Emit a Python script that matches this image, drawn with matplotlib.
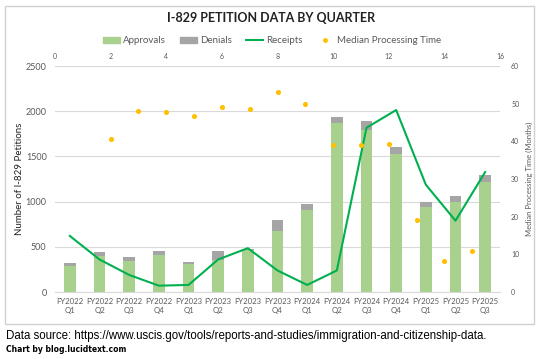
import matplotlib.pyplot as plt
import numpy as np
from matplotlib.patches import Rectangle, Patch
from matplotlib.lines import Line2D

plt.rcParams["font.family"] = ["Lato", "DejaVu Sans"]

quarters = ["FY2022\nQ1", "FY2022\nQ2", "FY2022\nQ3", "FY2022\nQ4",
            "FY2023\nQ1", "FY2023\nQ2", "FY2023\nQ3", "FY2023\nQ4",
            "FY2024\nQ1", "FY2024\nQ2", "FY2024\nQ3", "FY2024\nQ4",
            "FY2025\nQ1", "FY2025\nQ2", "FY2025\nQ3"]
approvals = [291, 395, 339, 414, 305, 357, 470, 675, 910, 1873, 1788, 1530, 944, 999, 1220]
denials = [33, 52, 52, 45, 31, 94, 11, 119, 67, 66, 107, 77, 55, 66, 78]
receipts = [620, 360, 189, 70, 78, 360, 485, 238, 78, 238, 1817, 2013, 1187, 789, 1327]
median_x = [2, 3, 4, 5, 6, 7, 8, 9, 10, 11, 12, 13, 14, 15]
median_months = [40.5, 48.1, 47.8, 46.6, 49.0, 48.6, 53.0, 49.8, 39.1, 39.1, 39.4, 19.2, 8.3, 11.0]

GREEN_BAR = "#A9D18E"
GRAY_BAR = "#A5A5A5"
LINE_GREEN = "#00B050"
ORANGE = "#FFC000"
GRID = "#D9D9D9"
TXT = "#595959"

fig = plt.figure(figsize=(5.38, 3.59), dpi=100)
fig.patches.append(Rectangle((5 / 538, 1 - 324 / 359), 529 / 538, 318 / 359,
                             transform=fig.transFigure, fill=False,
                             edgecolor="#D0D0D0", lw=1))

ax = fig.add_axes([55 / 538, 1 - 292 / 359, 445 / 538, 226 / 359])
x = np.arange(len(quarters))
ax.bar(x, approvals, width=0.4, color=GREEN_BAR, zorder=2)
ax.bar(x, denials, width=0.4, bottom=approvals, color=GRAY_BAR, zorder=2)
ax.plot(x, receipts, color=LINE_GREEN, lw=1.5, zorder=3)
ax.set_xlim(-0.5, len(quarters) - 0.5)
ax.set_ylim(0, 2500)
ax.set_yticks(range(0, 2501, 500))
ax.set_xticks(x)
ax.set_xticklabels(quarters, fontsize=5.6, color=TXT, linespacing=1.45)
ax.tick_params(axis="y", labelsize=6.5, labelcolor=TXT, length=0, pad=6)
ax.tick_params(axis="x", length=0, pad=4)
ax.grid(axis="y", color=GRID, lw=0.8, zorder=0)
for s in ["top", "right", "left"]:
    ax.spines[s].set_visible(False)
ax.spines["bottom"].set_color(GRID)
ax.set_ylabel("Number of I-829 Petitions", fontsize=7, color="#222222", labelpad=1)

ax2 = ax.twinx()
ax2.set_ylim(0, 60)
ax2.set_yticks(range(0, 61, 10))
ax2.tick_params(axis="y", labelsize=5, labelcolor=TXT, length=0, pad=8)
ax2.set_ylabel("Median Processing Time (Months)", fontsize=5.5, color=TXT, labelpad=5)
ax3 = ax2.twiny()
ax3.set_xlim(0, 16)
ax3.set_xticks(range(0, 17, 2))
ax3.tick_params(axis="x", labelsize=5, labelcolor=TXT, length=0, pad=4)
ax3.scatter(median_x, median_months, s=7, color=ORANGE, zorder=4)
for a in (ax2, ax3):
    for s in a.spines.values():
        s.set_visible(False)

fig.text(0.504, 0.95, "I-829 PETITION DATA BY QUARTER", ha="center", va="center",
         fontsize=9, fontweight="bold", color="#222222")

handles = [Patch(color=GREEN_BAR), Patch(color=GRAY_BAR),
           Line2D([], [], color=LINE_GREEN, lw=1.5),
           Line2D([], [], color=ORANGE, marker="o", ls="", markersize=2.5)]
labels = ["Approvals", "Denials", "Receipts", "Median Processing Time"]
fig.legend(handles, labels, loc="center", bbox_to_anchor=(0.505, 0.886), ncol=4,
           frameon=False, fontsize=7, labelcolor=TXT, handlelength=1.8,
           handleheight=0.7, handletextpad=0.3, columnspacing=1.4)

fig.text(6 / 538, 1 - 336 / 359,
         "Data source: https://www.uscis.gov/tools/reports-and-studies/immigration-and-citizenship-data.",
         ha="left", va="center", fontsize=8.3, family=["Liberation Sans", "DejaVu Sans"])
fig.text(6 / 538, 1 - 349 / 359, "Chart by blog.lucidtext.com", ha="left", va="center",
         fontsize=5.5, fontweight="bold", family=["DejaVu Sans"])

fig.savefig("out.png", dpi=100)
